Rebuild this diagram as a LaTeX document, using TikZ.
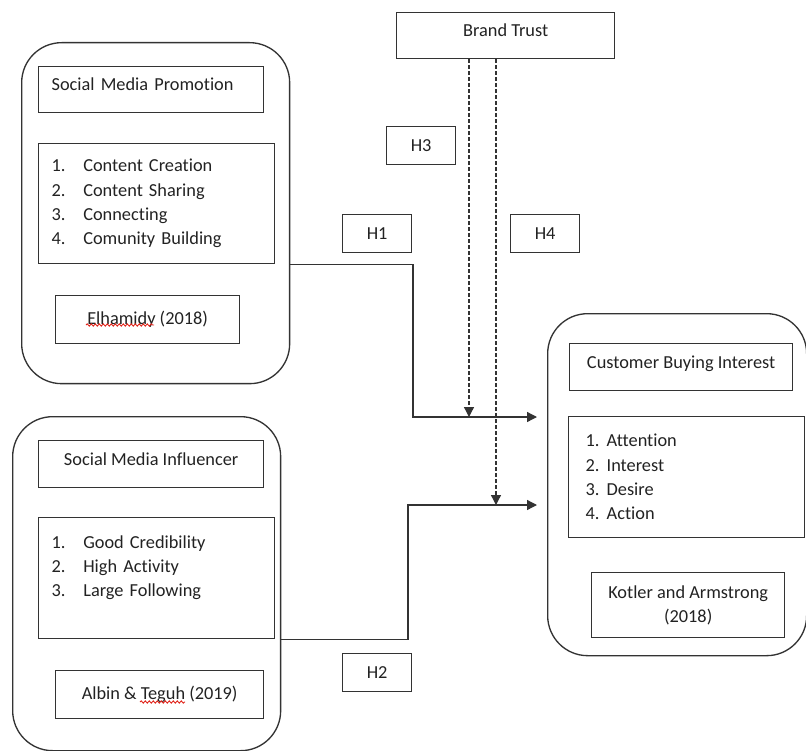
\documentclass[tikz,border=0pt]{standalone}
\usepackage{fontspec}
\setmainfont{Carlito}[Ligatures=NoCommon]
\usepackage{tikz}
\usetikzlibrary{arrows.meta,decorations.pathmorphing}
\definecolor{linea}{HTML}{333333}
\definecolor{testo}{HTML}{222222}
\definecolor{rosso}{HTML}{E0241B}

\newcommand{\voce}[2]{\makebox[#1][l]{#2}}

\begin{document}
\begin{tikzpicture}[x=0.6pt, y=-0.6pt,
  font=\fontsize{11}{14.6}\selectfont, text=testo,
  cornice/.style={draw=linea, line width=0.8pt, rounded corners=24pt, anchor=north west, inner sep=0pt},
  casella/.style={draw=linea, line width=0.8pt, anchor=north west},
  titolo/.style={casella, text height=8pt, text depth=7pt},
  elenco/.style={casella, align=left, inner xsep=7.8pt},
  ipotesi/.style={casella, minimum width=41.4pt, minimum height=22.8pt},
  freccia/.style={draw=linea, line width=0.8pt, -{Triangle[length=6pt,width=6pt]}},
  tratteggio/.style={freccia, dash pattern=on 2.2pt off 1.4pt},
  ondina/.style={draw=rosso, line width=0.5pt, decorate,
    decoration={snake, amplitude=0.7pt, segment length=2.4pt}}]
  \useasboundingbox (0,0) rectangle (806,751);

  % Social Media Promotion
  \node[cornice, minimum width=160.8pt, minimum height=204.6pt] (smp) at (21,42) {};
  \node[titolo, minimum width=135pt, minimum height=27.6pt, text width=119.4pt,
    align=left, inner xsep=7.8pt] (smptitle) at (38,66) {Social Media Promotion};
  \node[elenco, minimum width=141.6pt, minimum height=72pt, text width=126pt] (smpitems) at (38,143)
    {\voce{19pt}{1.}Content Creation\\ \voce{19pt}{2.}Content Sharing\\
     \voce{19pt}{3.}Connecting\\ \voce{19pt}{4.}Comunity Building};
  \node[casella, minimum width=110.4pt, minimum height=28.8pt] (smpref) at (55,295) {Elhamidy (2018)};

  % Social Media Influencer
  \node[cornice, minimum width=160.8pt, minimum height=200.4pt] (smi) at (12,416) {};
  \node[titolo, minimum width=135pt, minimum height=28.2pt] (smititle) at (38,440) {Social Media Influencer};
  \node[elenco, minimum width=141.6pt, minimum height=72.6pt, text width=126pt] (smiitems) at (38,517)
    {\voce{19pt}{1.}Good Credibility\\ \voce{19pt}{2.}High Activity\\
     \voce{19pt}{3.}Large Following\\ \mbox{}};
  \node[casella, minimum width=124.8pt, minimum height=28.8pt] (smiref) at (55,670) {Albin \& Teguh (2019)};

  % Customer Buying Interest
  \node[cornice, minimum width=155.4pt, minimum height=205.2pt] (cbi) at (547,313) {};
  \node[titolo, minimum width=133.8pt, minimum height=28.2pt] (cbititle) at (569,343) {Customer Buying Interest};
  \node[elenco, minimum width=141.6pt, minimum height=72.6pt, text width=121.2pt,
    inner xsep=10.2pt] (cbiitems) at (568,416)
    {\voce{12.6pt}{1.}Attention\\ \voce{12.6pt}{2.}Interest\\
     \voce{12.6pt}{3.}Desire\\ \voce{12.6pt}{4.}Action};
  \node[casella, minimum width=115.8pt, minimum height=39pt, align=center] (cbiref) at (591,572)
    {Kotler and Armstrong\\(2018)};

  % Brand Trust e ipotesi
  \node[titolo, minimum width=130.8pt, minimum height=27.6pt] (trust) at (396,12) {Brand Trust};
  \node[ipotesi] (h3) at (386,126) {H3};
  \node[ipotesi] (h1) at (342,214) {H1};
  \node[ipotesi] (h4) at (510,214) {H4};
  \node[ipotesi] (h2) at (342,653) {H2};

  % Punti di arrivo
  \coordinate (gomito1) at (413,417);
  \coordinate (gomito2) at (408,505);
  \coordinate (punta1) at (537,417);
  \coordinate (punta2) at (537,505);
  \coordinate (fine1) at (469,417);
  \coordinate (fine2) at (496,505);

  % Frecce
  \draw[freccia] (smpitems.south -| smp.east) -| (gomito1) -- (punta1);
  \draw[freccia] (smiitems.south -| smi.east) -| (gomito2) -- (punta2);
  \draw[tratteggio] (trust.south -| fine1) -- (fine1);
  \draw[tratteggio] (trust.south -| fine2) -- (fine2);

  % Sottolineature rosse
  \draw[ondina] (86,325) -- (154,325);
  \draw[ondina] (140,702) -- (185,702);
\end{tikzpicture}
\end{document}
